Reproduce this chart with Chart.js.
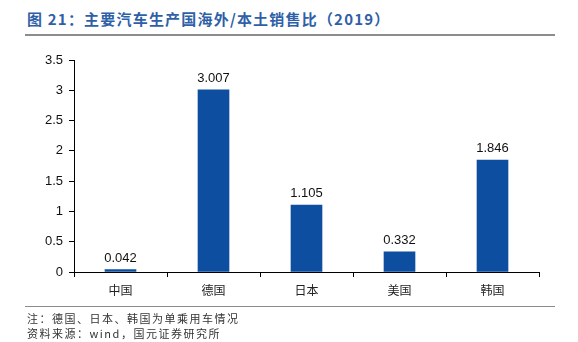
<!DOCTYPE html>
<html>
<head>
<meta charset="utf-8">
<script src="https://cdn.jsdelivr.net/npm/chart.js@4.4.0/dist/chart.umd.min.js"></script>
<style>
  body { margin: 0; background: #fff; width: 578px; height: 342px; position: relative; overflow: hidden; }
  #title { position: absolute; left: 27px; top: 8px; font: bold 15px "Noto Sans CJK SC", sans-serif; color: #2f5fa7; letter-spacing: 1.2px; }
  #topline { position: absolute; left: 25px; top: 34px; width: 530px; height: 2px; background: #8c8c8c; }
  #botline { position: absolute; left: 25px; top: 306px; width: 530px; height: 1px; background: #8c8c8c; }
  .note { position: absolute; left: 27px; font: 11px "Noto Sans CJK SC", sans-serif; color: #333; letter-spacing: 1.5px; }
  #wrap { position: absolute; left: 0; top: 0; width: 578px; height: 342px; }
</style>
</head>
<body>
<div id="title">图 21：主要汽车生产国海外/本土销售比（2019）</div>
<div id="topline"></div>
<div id="wrap"><canvas id="Charte"></canvas></div>
<div id="botline"></div>
<div class="note" style="top:310px">注：德国、日本、韩国为单乘用车情况</div>
<div class="note" style="top:325px">资料来源：wind，国元证券研究所</div>
<script>
const categories = ['中国', '德国', '日本', '美国', '韩国'];
const ratio = [0.042, 3.007, 1.105, 0.332, 1.846];
const yTicks = [0, 0.5, 1, 1.5, 2, 2.5, 3, 3.5];

const barLabels = {
    id: 'barLabels',
    afterDatasetsDraw(chart) {
        const c = chart.ctx;
        c.save();
        c.font = '13px "Liberation Sans", Arial, sans-serif';
        c.fillStyle = '#111';
        c.textAlign = 'center';
        c.textBaseline = 'bottom';
        chart.getDatasetMeta(0).data.forEach((bar, i) => {
            c.fillText(ratio[i].toFixed(3), bar.x, bar.y - 5);
        });
        c.restore();
    }
};

const ctx = document.getElementById('Charte');
const Charte = new Chart(ctx, {
    type: 'bar',
    data: {
        labels: categories,
        datasets: [{
            data: ratio,
            backgroundColor: '#0d4ea0',
            barThickness: 31
        }]
    },
    options: {
        responsive: true,
        maintainAspectRatio: false,
        animation: false,
        layout: { padding: { left: 20, right: 39, top: 60, bottom: 40 } },
        plugins: { legend: { display: false }, tooltip: { enabled: false } },
        scales: {
            x: {
                offset: true,
                grid: { offset: true, drawOnChartArea: false, tickLength: 5, color: '#000' },
                border: { color: '#000', width: 1 },
                ticks: { color: '#222', font: { size: 12, family: '"Noto Sans CJK SC", sans-serif' }, padding: 6 },
                afterFit: s => { s.height = 30; }
            },
            y: {
                min: 0,
                max: 3.5,
                afterBuildTicks: s => { s.ticks = yTicks.map(v => ({ value: v })); },
                grid: { drawOnChartArea: false, tickLength: 5, color: '#000' },
                border: { color: '#000', width: 1 },
                ticks: {
                    color: '#111',
                    font: { size: 13, family: '"Liberation Sans", Arial, sans-serif' },
                    padding: 6,
                    callback: v => String(v)
                },
                afterFit: s => { s.width = 54; }
            }
        }
    },
    plugins: [barLabels]
});
</script>
</body>
</html>
